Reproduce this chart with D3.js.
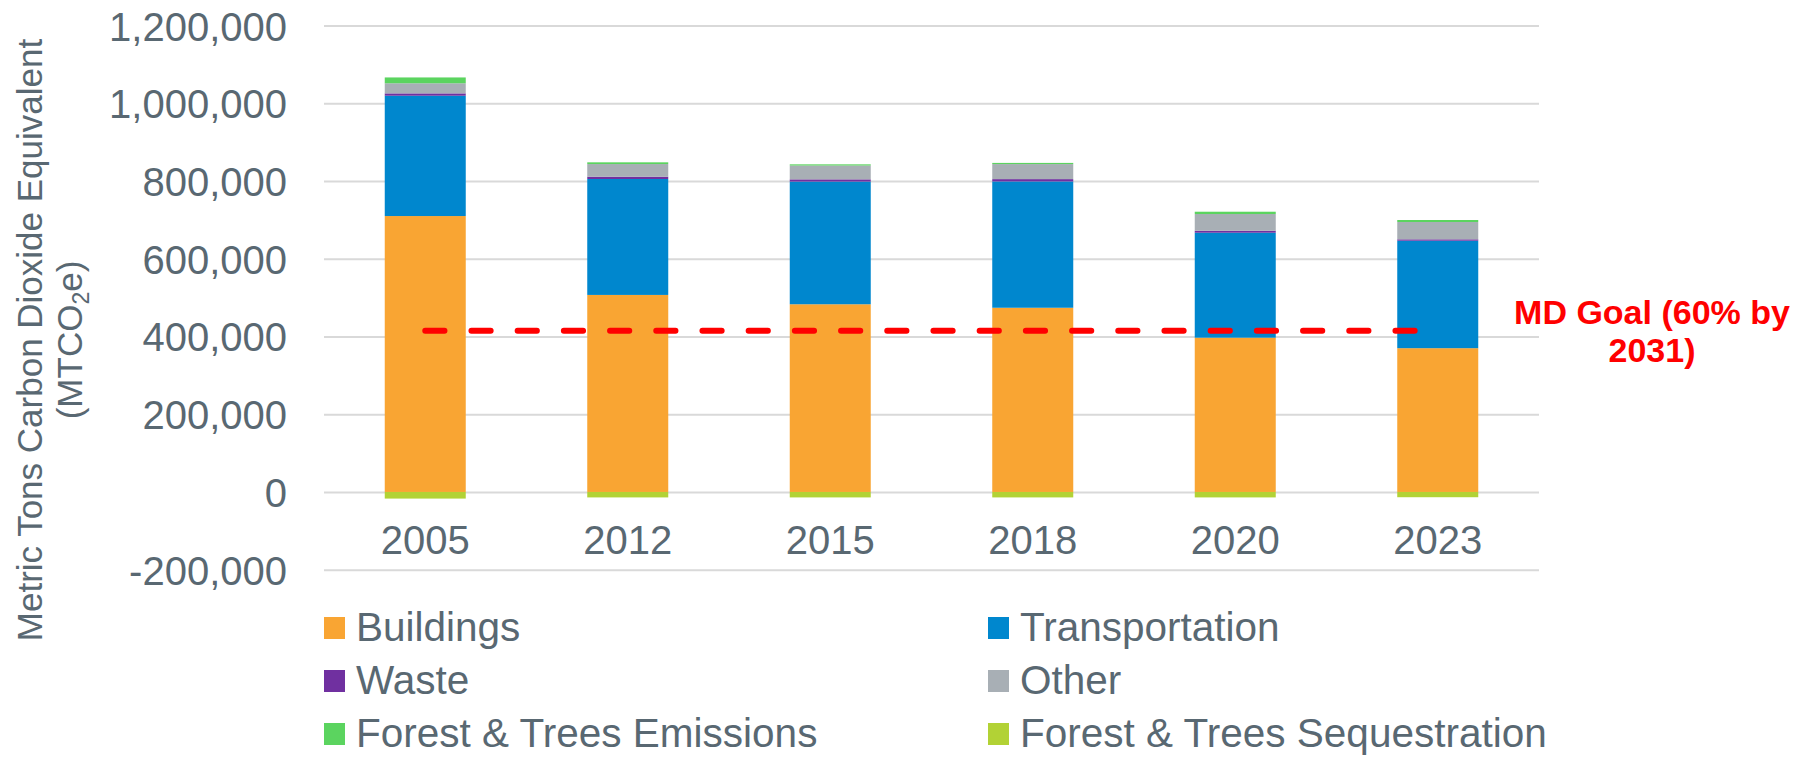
<!DOCTYPE html>
<html>
<head>
<meta charset="utf-8">
<script src="https://cdn.jsdelivr.net/npm/d3@7"></script>
<style>
  html, body { margin: 0; padding: 0; background: #fff; }
  svg { display: block; font-family: "Liberation Sans", Arial, sans-serif; }
</style>
</head>
<body>
<svg id="chart" width="1814" height="757"></svg>
<script>
// ---- Data ----
const years = ["2005", "2012", "2015", "2018", "2020", "2023"];
const seriesNames = ["Buildings", "Transportation", "Waste", "Other", "Forest & Trees Emissions", "Forest & Trees Sequestration"];
const buildings      = [710000, 507000, 483000, 474000, 397000, 370000];
const transportation = [309600, 298300, 315600, 325000, 270100, 276500];
const waste          = [6000, 5900, 5800, 6000, 5100, 3600];
const other          = [26000, 32600, 35600, 38700, 43000, 44500];
const forestEmissions = [15000, 4400, 3000, 3000, 5900, 5200];
const forestSequestration = [-17000, -14000, -14000, -14000, -14000, -13500];
const goalValue = 415000;
const goalLabel = ["MD Goal (60% by", "2031)"];
const yTicks = [-200000, 0, 200000, 400000, 600000, 800000, 1000000, 1200000];
const colors = ["#F9A533", "#0087CE", "#7030A0", "#A8AFB5", "#5BD45F", "#B2D235"];

const seriesValues = [buildings, transportation, waste, other, forestEmissions, forestSequestration];
const table = years.map((yr, i) => {
  const row = { year: yr };
  seriesNames.forEach((s, j) => row[s] = seriesValues[j][i]);
  return row;
});

// ---- Layout ----
const svg = d3.select("#chart");
const textColor = "#596872";
const plotLeft = 324, plotRight = 1539, plotTop = 25.6, plotBottom = 569.7;

const x = d3.scaleBand().domain(years).range([plotLeft, plotRight]).paddingInner(0.6).paddingOuter(0.3);
const y = d3.scaleLinear().domain([-200000, 1200000]).range([plotBottom, plotTop]);

const fmt = d3.formatLocale({ decimal: ".", thousands: ",", grouping: [3], currency: ["", ""], minus: "-" }).format(",");

// grid + y labels
const yAxis = d3.axisLeft(y).tickValues(yTicks).tickSize(-(plotRight - plotLeft)).tickPadding(37)
  .tickFormat(fmt);
const gy = svg.append("g").attr("transform", `translate(${plotLeft},0)`).call(yAxis);
gy.select(".domain").remove();
gy.selectAll(".tick line").attr("stroke", "#D9D9D9").attr("stroke-width", 2);
gy.selectAll(".tick text").attr("fill", textColor).attr("font-size", 40).attr("dy", "0.36em")
  .style("font-family", "Liberation Sans, Arial, sans-serif");

// stacked bars
const stack = d3.stack().keys(seriesNames).offset(d3.stackOffsetDiverging);
const stacked = stack(table);
svg.append("g").selectAll("g").data(stacked).join("g")
  .attr("fill", (d, i) => colors[i])
  .selectAll("rect").data(d => d).join("rect")
  .attr("x", d => x(d.data.year))
  .attr("width", x.bandwidth())
  .attr("y", d => y(Math.max(d[0], d[1])))
  .attr("height", d => Math.abs(y(d[0]) - y(d[1])));

// x labels
svg.append("g").selectAll("text").data(years).join("text")
  .attr("x", d => x(d) + x.bandwidth() / 2)
  .attr("y", y(0) + 62)
  .attr("text-anchor", "middle")
  .attr("font-size", 40)
  .attr("fill", textColor)
  .text(d => d);

// goal dashed line
svg.append("line")
  .attr("x1", x(years[0]) + x.bandwidth() / 2)
  .attr("x2", x(years[years.length - 1]) + x.bandwidth() / 2)
  .attr("y1", y(goalValue)).attr("y2", y(goalValue))
  .attr("stroke", "#FF0000").attr("stroke-width", 6)
  .attr("stroke-linecap", "round")
  .attr("stroke-dasharray", "19.2,27");

// goal label
const gl = svg.append("text").attr("text-anchor", "middle").attr("font-size", 34)
  .attr("font-weight", "bold").attr("fill", "#FF0000");
goalLabel.forEach((t, i) => {
  gl.append("tspan").attr("x", 1652).attr("y", 324 + i * 38).text(t);
});

// y title
const title = svg.append("text")
  .attr("transform", "translate(0,340) rotate(-90)")
  .attr("text-anchor", "middle")
  .attr("font-size", 35)
  .attr("fill", textColor);
title.append("tspan").attr("x", 0).attr("y", 42).text("Metric Tons Carbon Dioxide Equivalent");
const t2 = title.append("tspan").attr("x", 0).attr("y", 82);
t2.append("tspan").text("(MTCO");
t2.append("tspan").attr("font-size", 23).attr("dy", 7).text("2");
t2.append("tspan").attr("dy", -7).text("e)");

// legend
const legendCols = [324, 988];
const legendRows = [641, 694, 747];
const lg = svg.append("g").selectAll("g").data(seriesNames).join("g")
  .attr("transform", (d, i) => `translate(${legendCols[i % 2]},${legendRows[Math.floor(i / 2)]})`);
lg.append("rect").attr("x", 0).attr("y", -24).attr("width", 21).attr("height", 22)
  .attr("fill", (d, i) => colors[i]);
lg.append("text").attr("x", 32).attr("y", 0).attr("font-size", 40.5).attr("fill", textColor).text(d => d);
</script>
</body>
</html>
